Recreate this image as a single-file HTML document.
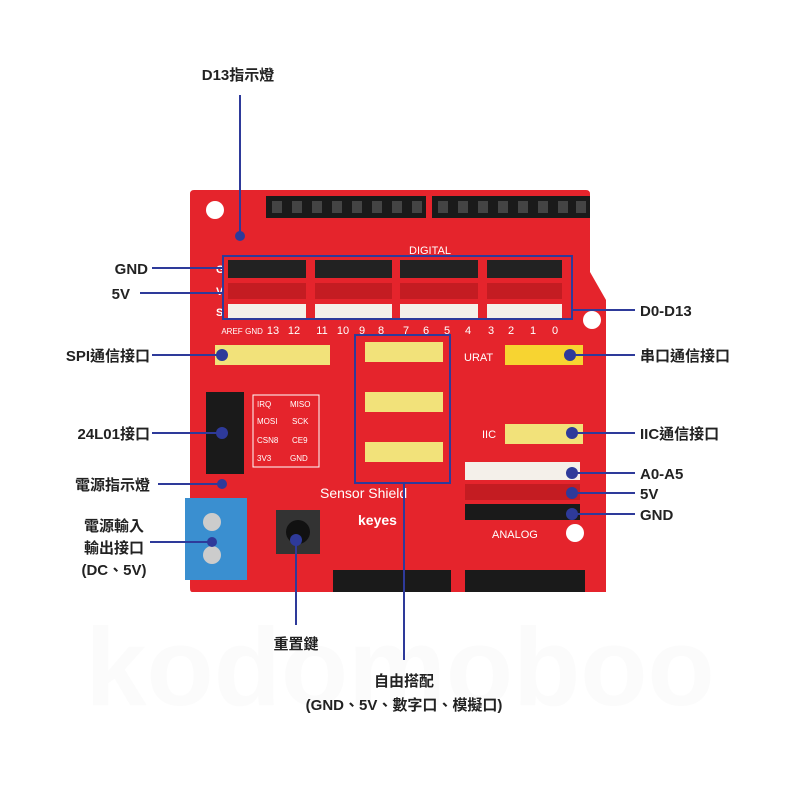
<!DOCTYPE html><html><head><meta charset="utf-8"><style>body{margin:0;background:#fff}svg{display:block}text{font-family:"Liberation Sans","Noto Sans CJK TC",sans-serif}</style></head><body>
<svg width="800" height="800" viewBox="0 0 800 800" xmlns="http://www.w3.org/2000/svg">
<rect width="800" height="800" fill="#fff"/>
<text x="400" y="705" font-size="110" font-weight="bold" fill="#fbfbfb" text-anchor="middle">kodomoboo</text>
<path d="M194 190 L586 190 Q590 190 590 194 L590 272 L606 300 L606 592 L192 592 Q190 592 190 588 L190 194 Q190 190 194 190Z" fill="#e5242c"/>
<circle cx="215" cy="210" r="9" fill="#fff"/><circle cx="592" cy="320" r="9" fill="#fff"/><circle cx="575" cy="533" r="9" fill="#fff"/>
<g fill="#1a1a1a"><rect x="266" y="196" width="160" height="22"/><rect x="432" y="196" width="158" height="22"/>
<rect x="333" y="570" width="118" height="22"/><rect x="465" y="570" width="120" height="22"/></g>
<g fill="#444"><rect x="272" y="201" width="10" height="12"/><rect x="292" y="201" width="10" height="12"/><rect x="312" y="201" width="10" height="12"/><rect x="332" y="201" width="10" height="12"/><rect x="352" y="201" width="10" height="12"/><rect x="372" y="201" width="10" height="12"/><rect x="392" y="201" width="10" height="12"/><rect x="412" y="201" width="10" height="12"/>
<rect x="438" y="201" width="10" height="12"/><rect x="458" y="201" width="10" height="12"/><rect x="478" y="201" width="10" height="12"/><rect x="498" y="201" width="10" height="12"/><rect x="518" y="201" width="10" height="12"/><rect x="538" y="201" width="10" height="12"/><rect x="558" y="201" width="10" height="12"/><rect x="576" y="201" width="10" height="12"/></g>
<text x="430" y="254" font-size="11" fill="#fff" text-anchor="middle">DIGITAL</text>
<g font-size="11" fill="#fff" font-weight="bold"><text x="216" y="273">G</text><text x="216" y="295">V</text><text x="216" y="316">S</text></g>
<g><rect x="228" y="260" width="78" height="18" fill="#222"/><rect x="315" y="260" width="77" height="18" fill="#222"/><rect x="400" y="260" width="78" height="18" fill="#222"/><rect x="487" y="260" width="75" height="18" fill="#222"/>
<rect x="228" y="283" width="78" height="16" fill="#c41c22"/><rect x="315" y="283" width="77" height="16" fill="#c41c22"/><rect x="400" y="283" width="78" height="16" fill="#c41c22"/><rect x="487" y="283" width="75" height="16" fill="#c41c22"/>
<rect x="228" y="304" width="78" height="16" fill="#f4f0ea"/><rect x="315" y="304" width="77" height="16" fill="#f4f0ea"/><rect x="400" y="304" width="78" height="16" fill="#f4f0ea"/><rect x="487" y="304" width="75" height="16" fill="#f4f0ea"/></g>
<g font-size="11" fill="#fff" text-anchor="middle"><text x="232" y="334" font-size="8">AREF</text><text x="254" y="334" font-size="8">GND</text><text x="273" y="334">13</text><text x="294" y="334">12</text><text x="322" y="334">11</text><text x="343" y="334">10</text><text x="362" y="334">9</text><text x="381" y="334">8</text><text x="406" y="334">7</text><text x="426" y="334">6</text><text x="447" y="334">5</text><text x="468" y="334">4</text><text x="491" y="334">3</text><text x="511" y="334">2</text><text x="533" y="334">1</text><text x="555" y="334">0</text></g>
<rect x="215" y="345" width="115" height="20" fill="#f2e27a"/>
<rect x="365" y="342" width="78" height="20" fill="#f2e27a"/><rect x="365" y="392" width="78" height="20" fill="#f2e27a"/><rect x="365" y="442" width="78" height="20" fill="#f2e27a"/>
<rect x="505" y="345" width="78" height="20" fill="#f7d431"/><text x="464" y="361" font-size="11" fill="#fff">URAT</text>
<rect x="505" y="424" width="78" height="20" fill="#f2e27a"/><text x="482" y="438" font-size="11" fill="#fff">IIC</text>
<rect x="465" y="462" width="115" height="18" fill="#f4f0ea"/><rect x="465" y="484" width="115" height="16" fill="#c41c22"/><rect x="465" y="504" width="115" height="16" fill="#1a1a1a"/>
<text x="492" y="538" font-size="11" fill="#fff">ANALOG</text>
<rect x="206" y="392" width="38" height="82" fill="#1a1a1a"/>
<rect x="253" y="395" width="66" height="72" fill="none" stroke="#fff" stroke-width="1"/>
<g font-size="8" fill="#fff"><text x="257" y="407">IRQ</text><text x="290" y="407">MISO</text><text x="257" y="424">MOSI</text><text x="292" y="424">SCK</text><text x="257" y="443">CSN8</text><text x="292" y="443">CE9</text><text x="257" y="461">3V3</text><text x="290" y="461">GND</text></g>
<rect x="185" y="498" width="62" height="82" fill="#3a8fd0"/><circle cx="212" cy="522" r="9" fill="#ccc"/><circle cx="212" cy="555" r="9" fill="#ccc"/>
<rect x="276" y="510" width="44" height="44" fill="#333"/><circle cx="298" cy="532" r="12" fill="#111"/>
<text x="320" y="498" font-size="14" fill="#fff">Sensor Shield</text><text x="358" y="525" font-size="14" fill="#fff" font-weight="bold">keyes</text>
<g stroke="#2e3a9a" stroke-width="2" fill="none">
<rect x="223" y="256" width="349" height="63"/><rect x="355" y="335" width="95" height="148"/>
<line x1="240" y1="95" x2="240" y2="236"/>
<line x1="152" y1="268" x2="222" y2="268"/><line x1="140" y1="293" x2="222" y2="293"/>
<line x1="572" y1="310" x2="635" y2="310"/>
<line x1="152" y1="355" x2="222" y2="355"/><line x1="570" y1="355" x2="635" y2="355"/>
<line x1="152" y1="433" x2="222" y2="433"/><line x1="572" y1="433" x2="635" y2="433"/>
<line x1="158" y1="484" x2="222" y2="484"/>
<line x1="572" y1="473" x2="635" y2="473"/><line x1="572" y1="493" x2="635" y2="493"/><line x1="572" y1="514" x2="635" y2="514"/>
<line x1="150" y1="542" x2="212" y2="542"/>
<line x1="296" y1="540" x2="296" y2="625"/><line x1="404" y1="483" x2="404" y2="660"/>
</g>
<g fill="#2e3a9a"><circle cx="240" cy="236" r="5"/><circle cx="222" cy="355" r="6"/><circle cx="570" cy="355" r="6"/><circle cx="222" cy="433" r="6"/><circle cx="572" cy="433" r="6"/><circle cx="222" cy="484" r="5"/><circle cx="572" cy="473" r="6"/><circle cx="572" cy="493" r="6"/><circle cx="572" cy="514" r="6"/><circle cx="212" cy="542" r="5"/><circle cx="296" cy="540" r="6"/></g>
<g font-size="15" font-weight="bold" fill="#222">
<text x="238" y="80" text-anchor="middle">D13指示燈</text>
<text x="148" y="274" text-anchor="end">GND</text><text x="130" y="299" text-anchor="end">5V</text>
<text x="640" y="316">D0-D13</text>
<text x="150" y="361" text-anchor="end">SPI通信接口</text><text x="640" y="361">串口通信接口</text>
<text x="150" y="439" text-anchor="end">24L01接口</text><text x="640" y="439">IIC通信接口</text>
<text x="150" y="490" text-anchor="end">電源指示燈</text>
<text x="640" y="479">A0-A5</text><text x="640" y="499">5V</text><text x="640" y="520">GND</text>
<text x="114" y="531" text-anchor="middle">電源輸入</text><text x="114" y="553" text-anchor="middle">輸出接口</text><text x="114" y="575" text-anchor="middle">(DC、5V)</text>
<text x="296" y="649" text-anchor="middle">重置鍵</text>
<text x="404" y="686" text-anchor="middle">自由搭配</text><text x="404" y="710" text-anchor="middle">(GND、5V、數字口、模擬口)</text>
</g>
</svg></body></html>
